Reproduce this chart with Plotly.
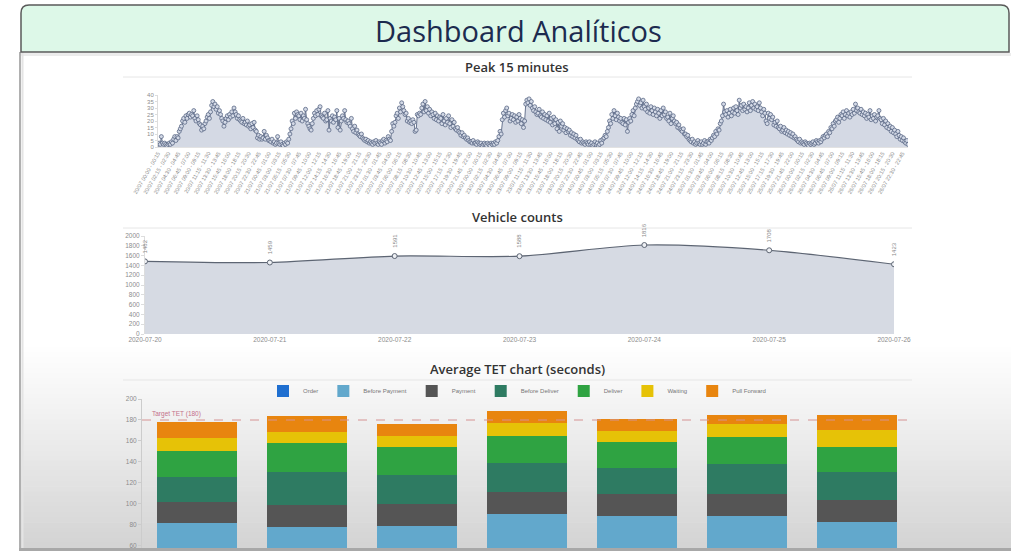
import plotly.graph_objects as go

W, H = 1011, 551
def X(p): return p / W
def Y(p): return 1 - p / H

# ---------------- data ----------------
days = ["20", "21", "22", "23", "24", "25", "26"]

peak_20 = [2,3,2,8, 3,2,3,2, 1,2,3,2, 4,3,6,8, 5,8,7,12, 14,16,20,22, 19,24,22,25, 26,23,25,24,
           28,22,20,24, 21,18,17,13, 16,14,18,20, 23,25,22,27, 32,35,31,33, 29,31,26,28, 25,22,20,16, 19,22,24,21,
           25,23,27,24, 30,27,25,22, 24,21,20,19, 22,18,19,17, 20,16,17,14, 18,15,19,13, 12,7,9,6, 8,6,7,12]
peak_21 = [6,9,7,5, 5,4,6,3, 4,2,3,8, 3,2,4,2, 1,3,2,4, 3,6,10,14, 20,18,26,22, 27,25,24,21,
           26,20,24,22, 29,21,18,16, 14,13,18,22, 26,24,28,25, 29,31,24,23, 22,26,20,21, 28,13,22,20, 24,19,23,21,
           28,15,22,13, 20,24,22,28, 21,19,20,18, 16,22,14,12, 16,11,13,10, 9,8,10,7, 6,5,6,4, 5,3,4,3]
peak_22 = [2,4,3,5, 3,2,4,3, 2,5,6,3, 5,4,8,6, 5,12,18,16, 19,24,26,22, 30,27,34,31, 28,25,26,20,
           22,19,20,18, 21,19,12,13, 25,24,26,25, 30,33,27,35, 28,31,26,29, 24,27,25,22, 26,21,24,20, 23,22,18,25,
           20,17,22,19, 24,18,15,21, 16,19,14,13, 15,12,11,9, 11,8,9,7, 6,7,5,4, 4,3,5,3, 3,2,4,3]
peak_23 = [2,3,1,2, 3,2,1,3, 2,1,3,2, 3,2,4,3, 5,8,12,10, 21,26,23,28, 30,24,26,20, 22,25,21,24,
           19,23,20,25, 22,18,21,15, 20,33,36,34, 37,32,35,30, 28,31,27,25, 26,29,24,23, 27,22,25,21, 24,20,26,19,
           22,17,23,18, 21,14,19,12, 20,16,18,13, 15,11,14,12, 13,9,11,8, 10,7,9,6, 5,4,6,3, 4,3,2,4]
peak_24 = [3,2,4,2, 3,1,2,4, 2,3,1,2, 5,3,6,7, 9,8,12,15, 20,18,25,22, 28,24,21,26, 23,20,22,19,
           18,22,17,21, 12,19,22,20, 25,28,24,30, 33,35,37,32, 34,30,36,31, 29,33,27,30, 26,31,28,25, 30,27,24,29,
           26,22,28,24, 30,25,27,22, 23,20,26,18, 22,24,20,18, 19,15,17,14, 13,12,14,10, 10,8,9,6, 5,4,6,3]
peak_25 = [4,2,3,5, 3,2,4,2, 3,5,2,4, 4,3,6,5, 7,9,8,12, 10,14,13,18, 20,24,33,27, 25,28,23,26,
           29,24,27,30, 26,31,28,25, 36,30,32,28, 33,29,31,27, 30,34,28,32, 35,30,33,29, 31,28,34,30, 27,24,29,26,
           20,18,26,22, 25,21,23,17, 19,16,20,15, 14,16,12,13, 15,11,13,10, 12,9,11,8, 10,7,8,6, 5,4,6,3]
peak_26 = [4,3,2,4, 3,2,1,3, 2,3,4,2, 3,5,4,3, 5,4,6,8, 7,9,10,8, 12,11,15,14, 18,16,20,21,
           23,19,22,25, 24,27,22,25, 28,24,26,23, 27,25,29,26, 33,28,30,27, 26,29,25,27, 24,26,22,25, 23,28,21,24,
           22,25,20,23, 24,28,22,21, 18,22,17,20, 15,18,14,16, 12,15,11,13, 10,8,12,9, 6,8,5,7, 4,3,5,2]

peak_days = [peak_20, peak_21, peak_22, peak_23, peak_24, peak_25, peak_26]

def slot_label(day, q):
    s = q * 15
    e = s + 15
    sh, sm = divmod(s, 60)
    eh, em = divmod(e % 1440, 60)
    return f"{day}/07 {sh:02d}:{sm:02d} - {eh:02d}:{em:02d}"

peak_cats, peak_vals = [], []
for d, vals in zip(days, peak_days):
    for q, v in enumerate(vals):
        peak_cats.append(slot_label(d, q))
        peak_vals.append(v)
peak_ticks = peak_cats[::9]

vehicle_dates = ["2020-07-20", "2020-07-21", "2020-07-22", "2020-07-23", "2020-07-24", "2020-07-25", "2020-07-26"]
vehicle_counts = [1482, 1459, 1591, 1588, 1816, 1708, 1423]

tet_dates = vehicle_dates
tet_order = [12, 11, 12, 13, 12, 12, 11]
tet_before_payment = [69.6, 67.4, 67.4, 77.5, 76.1, 77.0, 72.2]
tet_payment = [20.6, 20.6, 20.6, 21.2, 21.1, 20.2, 20.9]
tet_before_deliver = [23.8, 31.2, 27.6, 27.7, 25.4, 28.9, 26.1]
tet_deliver = [24.8, 27.6, 26.4, 25.4, 24.1, 25.4, 24.4]
tet_waiting = [11.7, 11.1, 11.0, 12.6, 10.8, 12.4, 15.6]
tet_pull_forward = [15.9, 15.2, 11.2, 11.5, 11.5, 8.9, 14.6]
target_tet = 180

tet_series = [
    ("Order", tet_order, "#1f6fd0"),
    ("Before Payment", tet_before_payment, "#62a8cc"),
    ("Payment", tet_payment, "#555555"),
    ("Before Deliver", tet_before_deliver, "#2e7b62"),
    ("Deliver", tet_deliver, "#2fa342"),
    ("Waiting", tet_waiting, "#e6c207"),
    ("Pull Forward", tet_pull_forward, "#e8850f"),
]

# ---------------- figure ----------------
fig = go.Figure()

fig.add_trace(go.Scatter(
    x=peak_cats, y=peak_vals, mode="lines+markers", fill="tozeroy",
    fillcolor="#d4d9e4", line=dict(color="#5a6885", width=0.9),
    marker=dict(size=4, color="#d3d9e6", line=dict(color="#5a6885", width=0.8)),
    xaxis="x", yaxis="y", showlegend=False, hoverinfo="skip"))

fig.add_trace(go.Scatter(
    x=vehicle_dates, y=vehicle_counts, mode="lines+markers", fill="tozeroy",
    fillcolor="#d6dae3", line=dict(color="#5d6573", width=1.2, shape="spline", smoothing=0.8),
    marker=dict(size=5, color="#eef0f4", line=dict(color="#5d6573", width=1)),
    xaxis="x2", yaxis="y2", showlegend=False, hoverinfo="skip"))

for name, vals, col in tet_series:
    fig.add_trace(go.Bar(x=tet_dates, y=vals, name=name, marker=dict(color=col, line=dict(width=0)),
                         xaxis="x3", yaxis="y3"))

shapes = []
# lower grey gradient (screen capture shading)
n = 40
for i in range(n):
    y0 = 342 + i * (206 / n)
    y1 = y0 + 206 / n + 0.6
    g = int(255 - (255 - 212) * (i / (n - 1)) ** 1.1)
    shapes.append(dict(type="rect", xref="paper", yref="paper", x0=X(21), x1=1, y0=Y(y1), y1=Y(y0),
                       fillcolor=f"rgb({g},{g},{g})", line=dict(width=0), layer="below"))
# panel left shadow
shapes.append(dict(type="line", xref="paper", yref="paper", x0=X(20), x1=X(20), y0=Y(549), y1=Y(52),
                   line=dict(color="#b0b0b0", width=2), layer="above"))
shapes.append(dict(type="line", xref="paper", yref="paper", x0=X(22.5), x1=X(22.5), y0=Y(549), y1=Y(52),
                   line=dict(color="#e4e4e4", width=2), layer="above"))
# bottom edge
shapes.append(dict(type="rect", xref="paper", yref="paper", x0=X(19), x1=1, y0=0, y1=Y(548),
                   fillcolor="#a8a8a8", line=dict(width=0), layer="above"))
# header
x0, x1, y0, y1, r = 21, 1009, 5, 52, 8
path = (f"M {X(x0)},{Y(y1)} L {X(x0)},{Y(y0 + r)} Q {X(x0)},{Y(y0)} {X(x0 + r)},{Y(y0)} "
        f"L {X(x1 - r)},{Y(y0)} Q {X(x1)},{Y(y0)} {X(x1)},{Y(y0 + r)} L {X(x1)},{Y(y1)} Z")
shapes.append(dict(type="path", xref="paper", yref="paper", path=path, fillcolor="#ddf8e8",
                   line=dict(color="#5a5a5a", width=1.5), layer="above"))
shapes.append(dict(type="rect", xref="paper", yref="paper", x0=X(21), x1=1, y0=Y(56), y1=Y(53),
                   fillcolor="#ececec", line=dict(width=0), layer="below"))
# title dividers
for yy in (77, 228, 380):
    shapes.append(dict(type="line", xref="paper", yref="paper", x0=X(123), x1=X(912), y0=Y(yy), y1=Y(yy),
                       line=dict(color="#e6e6e6", width=1), layer="below"))
# target line
shapes.append(dict(type="line", xref="x3 domain", yref="y3", x0=0, x1=1, y0=target_tet, y1=target_tet,
                   line=dict(color="#d69494", width=1.2, dash="dash"), layer="above"))

title_font = dict(family="Open Sans", size=13, color="#333333", weight=600)
annotations = [
    dict(text="Dashboard Analíticos", xref="paper", yref="paper", x=X(518), y=Y(31), showarrow=False,
         font=dict(family="Open Sans", size=29, color="#1c2b4f"), xanchor="center", yanchor="middle"),
    dict(text="Peak 15 minutes", xref="paper", yref="paper", x=X(517), y=Y(67), showarrow=False,
         font=title_font, xanchor="center", yanchor="middle"),
    dict(text="Vehicle counts", xref="paper", yref="paper", x=X(517), y=Y(217), showarrow=False,
         font=title_font, xanchor="center", yanchor="middle"),
    dict(text="Average TET chart (seconds)", xref="paper", yref="paper", x=X(517), y=Y(369), showarrow=False,
         font=title_font, xanchor="center", yanchor="middle"),
    dict(text=f"Target TET ({target_tet})", xref="x3 domain", yref="y3", x=0.01, y=target_tet, yshift=6,
         showarrow=False, xanchor="left", yanchor="middle",
         font=dict(family="Liberation Sans", size=6.5, color="#c4708a")),
]
for d, v in zip(vehicle_dates, vehicle_counts):
    annotations.append(dict(text=str(v), x=d, y=v, xref="x2", yref="y2", yshift=15, showarrow=False,
                            textangle=-90, font=dict(family="Liberation Sans", size=6, color="#888888")))

tick_font = dict(family="Liberation Sans", color="#8c8c8c")

fig.update_layout(
    width=W, height=H, margin=dict(l=0, r=0, t=0, b=0, autoexpand=False),
    paper_bgcolor="white", plot_bgcolor="rgba(0,0,0,0)",
    barmode="stack", bargap=0.28,
    shapes=shapes, annotations=annotations,
    legend=dict(orientation="h", x=X(517), xanchor="center", y=Y(391), yanchor="middle",
                font=dict(family="Liberation Sans", size=6, color="#777777"),
                bgcolor="rgba(0,0,0,0)", traceorder="normal", itemwidth=30),
    xaxis=dict(domain=[X(158), X(908)], anchor="y", type="category", range=[0, len(peak_cats) - 1],
               tickmode="array", tickvals=peak_ticks, ticktext=peak_ticks, tickangle=-60,
               tickfont=dict(size=5.5, **tick_font), showline=True, linecolor="#e2e2e2",
               showgrid=False, ticks="", automargin=False),
    yaxis=dict(domain=[Y(147), Y(95)], anchor="x", range=[0, 40], dtick=5,
               tickfont=dict(size=6, **tick_font), showline=True, linecolor="#dddddd",
               showgrid=False, zeroline=False, ticks="outside", ticklen=2, tickcolor="#dddddd",
               automargin=False),
    xaxis2=dict(domain=[X(145), X(894)], anchor="y2", type="category", range=[0, 6],
                tickfont=dict(size=6.5, **tick_font), showline=False, showgrid=False, ticks="",
                automargin=False),
    yaxis2=dict(domain=[Y(334), Y(236)], anchor="x2", range=[0, 2000], dtick=200,
                tickfont=dict(size=6.5, **tick_font), showline=True, linecolor="#dddddd",
                showgrid=False, zeroline=False, ticks="outside", ticklen=3, tickcolor="#dddddd",
                automargin=False),
    xaxis3=dict(domain=[X(142), X(912)], anchor="y3", type="category", range=[-0.5, 6.5],
                showticklabels=False, showline=False, showgrid=False, ticks="", automargin=False),
    yaxis3=dict(domain=[0, Y(399)], anchor="x3", range=[55.2, 200], tick0=0, dtick=20,
                tickfont=dict(size=6.5, **tick_font), showline=True, linecolor="#cccccc",
                showgrid=False, zeroline=False, ticks="outside", ticklen=3, tickcolor="#cccccc",
                automargin=False),
)

fig.write_html("out.html", config={"displayModeBar": False},
               post_script="document.body.style.margin='0';document.body.style.overflow='hidden';")
